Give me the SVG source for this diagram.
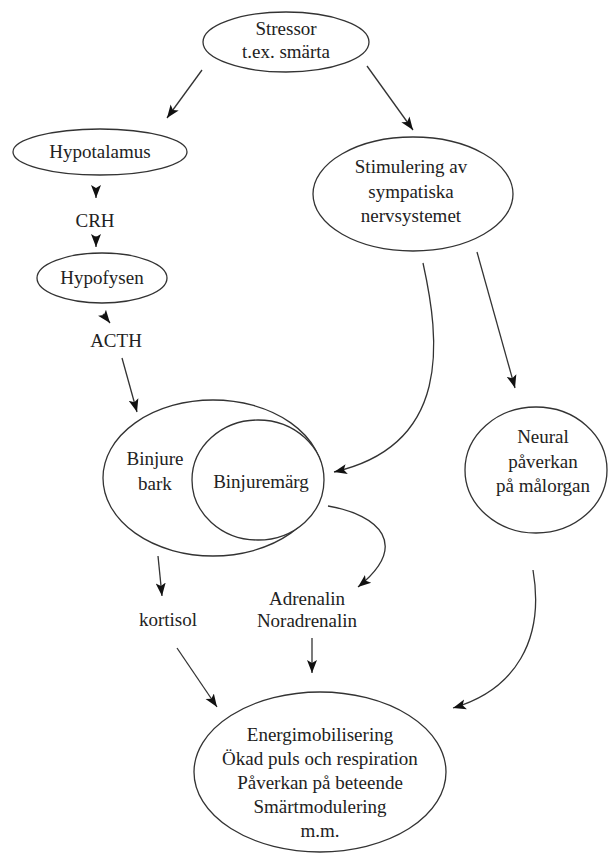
<svg xmlns="http://www.w3.org/2000/svg" width="609" height="854" viewBox="0 0 609 854">
<style>
.n{fill:#fff;stroke:#333;stroke-width:1.3}
.t{font-family:'Liberation Serif','Times New Roman',Times,'DejaVu Serif',serif;font-size:19px;fill:#222;text-anchor:middle}
.c{fill:none;stroke:#333;stroke-width:1.3;marker-end:url(#ah)}
</style>
<defs>
<marker id="ah" markerUnits="userSpaceOnUse" markerWidth="14" markerHeight="12" refX="13" refY="5" orient="auto" viewBox="0 0 14 10">
<path d="M0,0 L13,5 L0,10 L3,5 z" fill="#111"/>
</marker>
</defs>
<rect width="609" height="854" fill="#fff"/>
<g id="stressor"><ellipse class="n" cx="286" cy="42" rx="83" ry="30"/><text class="t" x="286" y="35">Stressor</text><text class="t" x="286" y="58">t.ex. smärta</text></g>
<g id="hypotalamus"><ellipse class="n" cx="100" cy="152" rx="87" ry="23"/><text class="t" x="100" y="158">Hypotalamus</text></g>
<g id="crh"><text class="t" x="95" y="227">CRH</text></g>
<g id="hypofysen"><ellipse class="n" cx="102" cy="278" rx="65" ry="25"/><text class="t" x="102" y="284">Hypofysen</text></g>
<g id="acth"><text class="t" x="116" y="347">ACTH</text></g>
<g id="stimulering"><ellipse class="n" cx="413" cy="194" rx="100" ry="57"/><text class="t" x="411" y="173">Stimulering av</text><text class="t" x="411" y="198">sympatiska</text><text class="t" x="411" y="222">nervsystemet</text></g>
<g id="binjurebark"><ellipse class="n" cx="213" cy="478" rx="110" ry="78"/><text class="t" x="155" y="465">Binjure</text><text class="t" x="155" y="490">bark</text></g>
<g id="binjuremarg"><ellipse class="n" cx="258" cy="480" rx="66" ry="60"/><text class="t" x="261" y="488">Binjuremärg</text></g>
<g id="neural"><ellipse class="n" cx="536" cy="470" rx="71" ry="63"/><text class="t" x="543" y="443">Neural</text><text class="t" x="543" y="468">påverkan</text><text class="t" x="543" y="492">på målorgan</text></g>
<g id="kortisol"><text class="t" x="168" y="626">kortisol</text></g>
<g id="adrenalin"><text class="t" x="307" y="605">Adrenalin</text><text class="t" x="307" y="627">Noradrenalin</text></g>
<g id="energi"><ellipse class="n" cx="320" cy="772" rx="126" ry="80"/><text class="t" x="320" y="741">Energimobilisering</text><text class="t" x="320" y="765">Ökad puls och respiration</text><text class="t" x="320" y="789">Påverkan på beteende</text><text class="t" x="320" y="813">Smärtmodulering</text><text class="t" x="320" y="837">m.m.</text></g>
<g id="connectors">
<path class="c" d="M202,70 L167,118"/>
<path class="c" d="M367,66 L413,130"/>
<path class="c" d="M96,188 L96,198"/>
<path class="c" d="M96,236 L96,247"/>
<path class="c" d="M103,314 L110,323"/>
<path class="c" d="M122,358 L137,412"/>
<path class="c" d="M423,263 C440,340 452,445 334,472"/>
<path class="c" d="M477,252 L515,388"/>
<path class="c" d="M328,506 C380,515 410,545 358,587"/>
<path class="c" d="M158,556 L162,596"/>
<path class="c" d="M312,638 L312,673"/>
<path class="c" d="M177,648 L217,707"/>
<path class="c" d="M533,570 C545,640 515,690 453,708"/>
</g>
</svg>
